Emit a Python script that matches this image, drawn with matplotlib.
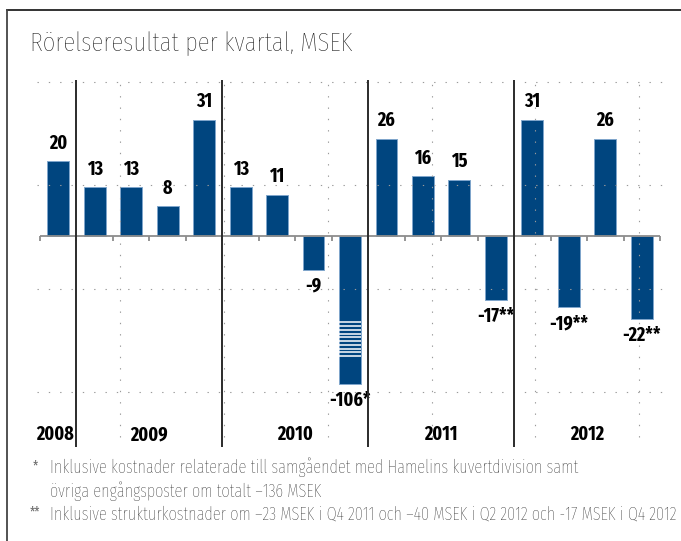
import matplotlib.pyplot as plt
import numpy as np

# Rörelseresultat per kvartal (MSEK), Q4 2008 .. Q4 2012
values = [20, 13, 13, 8, 31, 13, 11, -9, -106, 26, 16, 15, -17, 31, -19, 26, -22]
value_labels = ['20', '13', '13', '8', '31', '13', '11', '-9', '-106*',
                '26', '16', '15', '-17**', '31', '-19**', '26', '-22**']
years = ['2008', '2009', '2010', '2011', '2012']
year_first = [0, 1, 5, 9, 13]
year_last = [0, 4, 8, 12, 16]

footnote1 = ('Inklusive kostnader relaterade till samgåendet med Hamelins kuvertdivision samt\n'
             'övriga engångsposter om totalt –136 MSEK')
footnote2 = 'Inklusive strukturkostnader om –23 MSEK i Q4 2011 och –40 MSEK i Q2 2012 och -17 MSEK i Q4 2012'

BLUE = '#00457f'
FONT = 'Fira Sans Extra Condensed'
W, H = 681, 541
broken_floor = -39.5   # the -106 bar is drawn cut, with a striped break

plt.rcParams['font.family'] = [FONT, 'DejaVu Sans']

fig = plt.figure(figsize=(W / 100, H / 100), dpi=100)

# axes placed in pixels: zero line at y=236, 3.75 px per MSEK, 36.47 px per bar
px_bar = 36.47
px_unit = 3.75
left_px, right_px, top_px, bot_px = 30, 675, 80, 447
ax = fig.add_axes([left_px / W, (H - bot_px) / H, (right_px - left_px) / W, (bot_px - top_px) / H])
ax.set_xlim(-0.5 - (40 - left_px) / px_bar, 16.5 + (right_px - 660) / px_bar)
ax.set_ylim(-(bot_px - 236) / px_unit, (236 - top_px) / px_unit)
ax.axis('off')

x = np.arange(len(values))
drawn = [max(v, broken_floor) for v in values]
ax.bar(x, drawn, width=0.6, color=BLUE, edgecolor='#7fa6cc', linewidth=0.7, zorder=2)

# break pattern on the -106 bar
ib = values.index(min(values))
for yy in np.linspace(-23, -32, 10):
    ax.hlines(yy, ib - 0.29, ib + 0.29, color='white', lw=1.1, zorder=4)

# dotted grid (drawn over the bars)
for gx in [1.69, 4.55, 7.4, 10.25, 13.07, 15.92]:
    ax.vlines(gx, -53.5, 41.2, color='#9a9a9a', lw=0.8, linestyles=(0, (1.2, 9)), zorder=3)
for gy in [41.1, 13.6, -14.1, -41.6]:
    ax.hlines(gy, -0.57, 16.75, color='#9a9a9a', lw=0.8, linestyles=(0, (1.2, 9)), zorder=3)

# zero axis with ticks between bars
ax.hlines(0, -0.5, 16.5, color='#8c8c8c', lw=1.3, zorder=5)
for tx in np.arange(-0.5, 17, 1):
    ax.vlines(tx, -1.4, 0, color='#8c8c8c', lw=1.3, zorder=5)

# year separators and labels
for f in year_first[1:]:
    ax.vlines(f - 0.5, ax.get_ylim()[0], ax.get_ylim()[1], color='#2b2b2b', lw=1.4, zorder=5)
for yr, a, b in zip(years, year_first, year_last):
    if a == b:
        ax.text(a + 0.42, -53, yr, ha='right', va='center', fontsize=14, fontweight='bold')
    else:
        ax.text((a + b) / 2, -53, yr, ha='center', va='center', fontsize=14, fontweight='bold')

# value labels
for xi, d, lab in zip(x, drawn, value_labels):
    if d >= 0:
        ax.text(xi, d + 2.2, lab, ha='center', va='bottom', fontsize=14, fontweight='bold')
    else:
        ax.text(xi, d - 1.8, lab, ha='center', va='top', fontsize=14, fontweight='bold')

# title and footnotes
fig.text(30 / W, 1 - 44 / H, 'Rörelseresultat per kvartal, MSEK', fontsize=19.5,
         fontweight='light', color='#111111', va='center', ha='left')
fig.text(33 / W, 1 - 466 / H, '*', fontsize=10, color='#666666', va='center')
fig.text(50 / W, 1 - 479 / H, footnote1, fontsize=12.8, fontweight='light',
         color='#1e1e1e', va='center', linespacing=1.3)
fig.text(30 / W, 1 - 512 / H, '**', fontsize=10, color='#666666', va='center')
fig.text(50 / W, 1 - 514 / H, footnote2, fontsize=12.8, fontweight='light',
         color='#1e1e1e', va='center')

# outer frame (top and left)
fig.add_artist(plt.Line2D([7 / W, 1], [1 - 10 / H, 1 - 10 / H], color='#222222', lw=1.3))
fig.add_artist(plt.Line2D([7 / W, 7 / W], [0, 1 - 10 / H], color='#444444', lw=1.3))

fig.savefig('out.png', dpi=100)
